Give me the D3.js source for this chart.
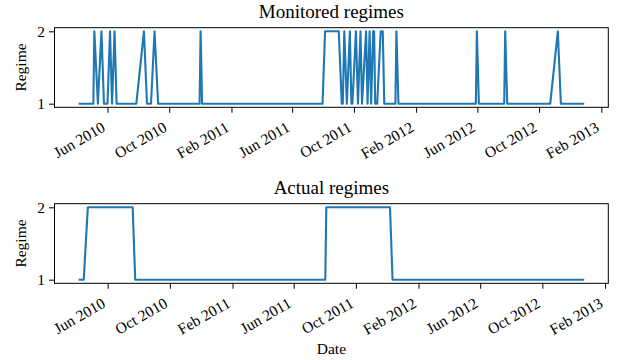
<!DOCTYPE html>
<html>
<head>
<meta charset="utf-8">
<script src="https://cdn.jsdelivr.net/npm/d3@7"></script>
<style>
    body { margin: 0; background: #fff; }
    svg { display: block; }
    text { font-family: "Liberation Serif", "Times New Roman", serif; fill: #000; }
</style>
</head>
<body>
<div id="chart"></div>
<script>
// regime path vertices: [date, regime]
const monitored = [
    ["2010-04-07", 1], ["2010-05-04", 1], ["2010-05-06", 2], ["2010-05-13", 1],
    ["2010-05-20", 2], ["2010-05-25", 1], ["2010-06-01", 1], ["2010-06-06", 2],
    ["2010-06-10", 1], ["2010-06-15", 2], ["2010-06-19", 1], ["2010-07-28", 1],
    ["2010-08-12", 2], ["2010-08-18", 1], ["2010-08-26", 1], ["2010-09-02", 2],
    ["2010-09-09", 1], ["2010-11-30", 1], ["2010-12-02", 2], ["2010-12-05", 1],
    ["2011-07-31", 1], ["2011-08-05", 2], ["2011-09-01", 2], ["2011-09-07", 1],
    ["2011-09-09", 1], ["2011-09-12", 2], ["2011-09-17", 1], ["2011-09-23", 2],
    ["2011-09-26", 1], ["2011-09-28", 1], ["2011-10-05", 2], ["2011-10-09", 1],
    ["2011-10-14", 2], ["2011-10-17", 1], ["2011-10-25", 2], ["2011-10-28", 1],
    ["2011-11-01", 2], ["2011-11-04", 1], ["2011-11-08", 2], ["2011-11-10", 2],
    ["2011-11-12", 1], ["2011-11-16", 1], ["2011-11-23", 2], ["2011-11-27", 2],
    ["2011-11-30", 1], ["2011-12-22", 1], ["2011-12-24", 2], ["2011-12-28", 1],
    ["2012-05-29", 1], ["2012-05-31", 2], ["2012-06-04", 1], ["2012-07-24", 1],
    ["2012-07-26", 2], ["2012-07-30", 1], ["2012-10-23", 1], ["2012-11-07", 2],
    ["2012-11-13", 1], ["2012-12-27", 1]
];

const actual = [
    ["2010-04-07", 1], ["2010-04-15", 1], ["2010-04-23", 2], ["2010-07-20", 2],
    ["2010-07-25", 1], ["2011-08-02", 1], ["2011-08-04", 2], ["2011-12-07", 2],
    ["2011-12-12", 1], ["2012-12-20", 1]
];

const xTickDates = ["2010-06-01", "2010-10-01", "2011-02-01", "2011-06-01", "2011-10-01",
    "2012-02-01", "2012-06-01", "2012-10-01", "2013-02-01"];
const yTicks = [1, 2];
const panelTitles = ["Monitored regimes", "Actual regimes"];

const W = 619, H = 360;
const parse = d3.timeParse("%Y-%m-%d");
const fmt = d3.timeFormat("%b %Y");

const svg = d3.select("#chart").append("svg")
    .attr("width", W)
    .attr("height", H);

const box = { left: 54.5, right: 608.3 };
const panels = [
    { data: monitored, title: panelTitles[0], top: 27.7, bottom: 107.3 },
    { data: actual, title: panelTitles[1], top: 203.7, bottom: 283.3 }
];

panels.forEach((p, i) => {
    const pts = p.data.map(d => ({ date: parse(d[0]), v: d[1] }));
    const ext = d3.extent(pts, d => d.date);
    const pad = (ext[1] - ext[0]) * 0.05;

    const x = d3.scaleTime()
        .domain([new Date(+ext[0] - pad), new Date(+ext[1] + pad)])
        .range([box.left, box.right]);
    const y = d3.scaleLinear()
        .domain([0.95, 2.05])
        .range([p.bottom, p.top]);

    const g = svg.append("g");

    // line
    g.append("path")
        .datum(pts)
        .attr("fill", "none")
        .attr("stroke", "#1f77b4")
        .attr("stroke-width", 2.1)
        .attr("stroke-linejoin", "round")
        .attr("stroke-linecap", "square")
        .attr("d", d3.line().x(d => x(d.date)).y(d => y(d.v)));

    // x axis
    const xAxis = g.append("g")
        .attr("transform", `translate(0,${p.bottom})`)
        .call(d3.axisBottom(x)
            .tickValues(xTickDates.map(parse))
            .tickFormat(fmt)
            .tickSize(5.5)
            .tickSizeOuter(0));
    xAxis.select(".domain").remove();
    xAxis.selectAll(".tick line").attr("stroke", "#000").attr("stroke-width", 1);
    const fs = 15.5;
    xAxis.selectAll(".tick text")
        .attr("font-size", fs)
        .attr("font-family", null)
        .attr("text-anchor", "end")
        .attr("dy", null)
        .attr("y", null)
        .attr("transform", `translate(${-0.5 * 0.216 * fs},${11 + 0.866 * 0.891 * fs}) rotate(-30)`);

    // y axis
    const yAxis = g.append("g")
        .attr("transform", `translate(${box.left},0)`)
        .call(d3.axisLeft(y)
            .tickValues(yTicks)
            .tickFormat(d3.format("d"))
            .tickSize(5.5)
            .tickPadding(4)
            .tickSizeOuter(0));
    yAxis.select(".domain").remove();
    yAxis.selectAll(".tick line").attr("stroke", "#000").attr("stroke-width", 1);
    yAxis.selectAll(".tick text")
        .attr("font-size", fs)
        .attr("font-family", null);

    // frame
    g.append("rect")
        .attr("x", box.left)
        .attr("y", p.top)
        .attr("width", box.right - box.left)
        .attr("height", p.bottom - p.top)
        .attr("fill", "none")
        .attr("stroke", "#000")
        .attr("stroke-width", 1);

    // title
    g.append("text")
        .attr("x", (box.left + box.right) / 2)
        .attr("y", p.top - 10)
        .attr("text-anchor", "middle")
        .style("font-size", "19px")
        .text(p.title);

    // y label
    g.append("text")
        .attr("transform", `translate(26,${(p.top + p.bottom) / 2}) rotate(-90)`)
        .attr("text-anchor", "middle")
        .style("font-size", fs + "px")
        .text("Regime");

    if (i === 1) {
        g.append("text")
            .attr("x", (box.left + box.right) / 2)
            .attr("y", 354)
            .attr("text-anchor", "middle")
            .style("font-size", fs + "px")
            .text("Date");
    }
});
</script>
</body>
</html>
